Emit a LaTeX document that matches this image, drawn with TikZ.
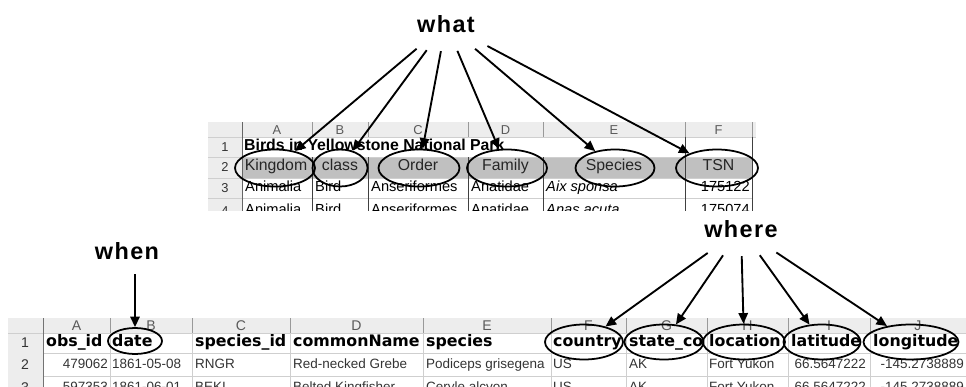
\documentclass[tikz,border=0pt]{standalone}
\usepackage{fontspec}
\setmainfont{Liberation Sans}
\newfontfamily\hdfont{DejaVu Sans}
\newfontfamily\labfont[LetterSpace=6]{Liberation Sans}
\usepackage{tikz}
\usetikzlibrary{arrows.meta, positioning, shapes.geometric}

\definecolor{bandgray}{HTML}{EDEDED}
\definecolor{gridgray}{HTML}{CFCFCF}
\definecolor{rowgray}{HTML}{C0C0C0}
\definecolor{lettergray}{HTML}{5A5A5A}

\begin{document}
\begin{tikzpicture}[
    x=0.03cm, y=-0.03cm,
    txt/.style={inner sep=0pt, text height=9pt, text depth=2.5pt},
    cell/.style={txt, anchor=west, font=\fontsize{12.5}{14}\selectfont},
    num/.style={txt, anchor=east, font=\fontsize{12.5}{14}\selectfont},
    fld/.style={txt, font=\fontsize{13.5}{15}\selectfont, text=black!85},
    hd/.style={txt, anchor=west, font=\hdfont\bfseries\fontsize{13.5}{15}\selectfont},
    dat/.style={txt, anchor=west, font=\fontsize{11.5}{13}\selectfont, text=black!80},
    datnum/.style={dat, anchor=east},
    colid/.style={inner sep=0pt, text height=8pt, text depth=0pt, font=\fontsize{11}{12}\selectfont, text=lettergray},
    rowid/.style={colid, text=black!80},
    bigid/.style={font=\fontsize{12}{13}\selectfont},
    ring/.style={ellipse, draw, line width=1.5pt, inner sep=0pt},
    lab/.style={ellipse, inner sep=0pt, font=\labfont\bfseries\fontsize{20}{22}\selectfont},
    arr/.style={-{Triangle[length=9pt, width=8pt]}, line width=1.6pt}
]
    \useasboundingbox (0,0) rectangle (966,387);

    % 上表
    \begin{scope}
        \clip (200,110) rectangle (770,210);
        \fill[bandgray] (208,122) rectangle (756,137);
        \fill[bandgray] (208,137) rectangle (242,215);
        \fill[rowgray] (242,157) rectangle (752,178);
        \draw[gridgray] (208,137) -- (756,137);
        \draw[gridgray] (208,157) -- (752,157);
        \draw[gridgray] (208,178) -- (752,178);
        \draw[gridgray] (208,198) -- (752,198);
        \foreach \x in {312,368,468,543,685,752}
            \draw[black!40] (\x,122) -- (\x,137);
        \draw[black!60] (242,122) -- (242,215);
        \foreach \x in {312,368,468,543}
            \draw[black!75] (\x,157) -- (\x,215);
        \foreach \x in {685,752}
            \draw[black!75] (\x,137) -- (\x,215);

        \node[colid] (tA) at (277,129.5) {A};
        \node[colid] (tB) at (340,129.5) {B};
        \node[colid] (tC) at (418,129.5) {C};
        \node[colid] (tD) at (505.5,129.5) {D};
        \node[colid] (tE) at (614,129.5) {E};
        \node[colid] (tF) at (718.5,129.5) {F};
        \node[rowid] (t1) at (225,147) {1};
        \node[rowid] (t2) at (225,167) {2};
        \node[rowid] (t3) at (225,188) {3};
        \node[rowid] (t4) at (225,211) {4};

        \node[cell, font=\bfseries\fontsize{13.5}{15}\selectfont] (title) at (244,147) {Birds in Yellowstone National Park};

        \node[fld] (kingdom) at (276,167) {Kingdom};
        \node[fld] (class) at (340,167) {class};
        \node[fld] (order) at (418,167) {Order};
        \node[fld] (family) at (505.5,167) {Family};
        \node[fld] (species) at (614,167) {Species};
        \node[fld] (tsn) at (718.5,167) {TSN};

        \node[cell] (a3) at (245,188) {Animalia};
        \node[cell] (b3) at (315,188) {Bird};
        \node[cell] (c3) at (371,188) {Anseriformes};
        \node[cell] (d3) at (471,188) {Anatidae};
        \node[cell] (e3) at (546,188) {\itshape Aix sponsa};
        \node[num] (f3) at (750,188) {175122};

        \node[cell] (a4) at (245,211) {Animalia};
        \node[cell] (b4) at (315,211) {Bird};
        \node[cell] (c4) at (371,211) {Anseriformes};
        \node[cell] (d4) at (471,211) {Anatidae};
        \node[cell] (e4) at (546,211) {\itshape Anas acuta};
        \node[num] (f4) at (750,211) {175074};
    \end{scope}

    \node[ring, minimum width=2.4cm, minimum height=1.11cm] (eKingdom) at (275,168) {};
    \node[ring, minimum width=1.65cm, minimum height=1.11cm] (eClass) at (340,168) {};
    \node[ring, minimum width=2.43cm, minimum height=1.11cm] (eOrder) at (419,168) {};
    \node[ring, minimum width=2.4cm, minimum height=1.11cm] (eFamily) at (507,168) {};
    \node[ring, minimum width=2.37cm, minimum height=1.11cm] (eSpecies) at (615,168) {};
    \node[ring, minimum width=2.46cm, minimum height=1.11cm] (eTSN) at (717,168) {};

    % 下表
    \fill[bandgray] (8,318) rectangle (966,333);
    \fill[bandgray] (8,333) rectangle (43,390);
    \draw[gridgray] (8,333) -- (966,333);
    \draw[gridgray] (43,353) -- (966,353);
    \draw[gridgray] (43,376) -- (966,376);
    \draw[black!55] (43,318) -- (43,390);
    \foreach \x in {110,192,290,423,551,626,707,788,870} {
        \draw[black!40] (\x,318) -- (\x,333);
        \draw[gridgray] (\x,333) -- (\x,390);
    }

    \node[colid, bigid] (bA) at (76.5,325.5) {A};
    \node[colid, bigid] (bB) at (151,325.5) {B};
    \node[colid, bigid] (bC) at (241,325.5) {C};
    \node[colid, bigid] (bD) at (356.5,325.5) {D};
    \node[colid, bigid] (bE) at (487,325.5) {E};
    \node[colid, bigid] (bF) at (588.5,325.5) {F};
    \node[colid, bigid] (bG) at (666.5,325.5) {G};
    \node[colid, bigid] (bH) at (747.5,325.5) {H};
    \node[colid, bigid] (bI) at (829,325.5) {I};
    \node[colid, bigid] (bJ) at (918,325.5) {J};
    \node[rowid, bigid] (b1) at (25,343) {1};
    \node[rowid, bigid] (b2) at (25,364.5) {2};
    \node[rowid, bigid] (b3) at (25,388) {3};

    \node[hd] (obsid) at (46,343) {obs\_id};
    \node[hd] (date) at (112,343) {date};
    \node[hd] (speciesid) at (195,343) {species\_id};
    \node[hd] (commonname) at (293,343) {commonName};
    \node[hd] (speciesname) at (426,343) {species};
    \node[hd] (country) at (553,343) {country};
    \node[hd] (statecode) at (629,343) {state\_co};
    \node[hd] (location) at (709,343) {location};
    \node[hd] (latitude) at (791,343) {latitude};
    \node[hd] (longitude) at (873,343) {longitude};

    \node[datnum] (r2a) at (108,364.5) {479062};
    \node[dat] (r2b) at (112,364.5) {1861-05-08};
    \node[dat] (r2c) at (195,364.5) {RNGR};
    \node[dat] (r2d) at (293,364.5) {Red-necked Grebe};
    \node[dat] (r2e) at (426,364.5) {Podiceps grisegena};
    \node[dat] (r2f) at (553,364.5) {US};
    \node[dat] (r2g) at (629,364.5) {AK};
    \node[dat] (r2h) at (709,364.5) {Fort Yukon};
    \node[datnum] (r2i) at (866,364.5) {66.5647222};
    \node[datnum] (r2j) at (964,364.5) {-145.2738889};

    \node[datnum] (r3a) at (108,388) {597353};
    \node[dat] (r3b) at (112,388) {1861-06-01};
    \node[dat] (r3c) at (195,388) {BEKI};
    \node[dat] (r3d) at (293,388) {Belted Kingfisher};
    \node[dat] (r3e) at (426,388) {Ceryle alcyon};
    \node[dat] (r3f) at (553,388) {US};
    \node[dat] (r3g) at (629,388) {AK};
    \node[dat] (r3h) at (709,388) {Fort Yukon};
    \node[datnum] (r3i) at (866,388) {66.5647222};
    \node[datnum] (r3j) at (964,388) {-145.2738889};

    \node[ring, minimum width=1.62cm, minimum height=0.78cm] (eDate) at (135,341) {};
    \node[ring, minimum width=2.34cm, minimum height=1.05cm] (eCountry) at (584,342) {};
    \node[ring, minimum width=2.37cm, minimum height=1.05cm] (eState) at (664,342) {};
    \node[ring, minimum width=2.46cm, minimum height=1.05cm] (eLocation) at (744,342) {};
    \node[ring, minimum width=2.31cm, minimum height=1.05cm] (eLatitude) at (822,342) {};
    \node[ring, minimum width=2.85cm, minimum height=1.05cm] (eLongitude) at (911,342) {};

    % 标签
    \node[lab, minimum width=4.2cm, minimum height=1.62cm] (what) at (446,24) {what};
    \node[lab, minimum width=2.7cm, minimum height=1.38cm] (when) at (127,251) {when};
    \node[lab, minimum width=4.2cm, minimum height=1.62cm] (where) at (741,229) {where};

    \draw[arr] (what) -- (eKingdom);
    \draw[arr] (what) -- (eClass);
    \draw[arr] (what) -- (eOrder);
    \draw[arr] (what) -- (eFamily);
    \draw[arr] (what) -- (eSpecies);
    \draw[arr] (what) -- (eTSN);

    \draw[arr] (when.south -| eDate) -- (eDate);

    \draw[arr] (where) -- (eCountry);
    \draw[arr] (where) -- (eState);
    \draw[arr] (where) -- (eLocation);
    \draw[arr] (where) -- (eLatitude);
    \draw[arr] (where) -- (eLongitude);
\end{tikzpicture}
\end{document}
